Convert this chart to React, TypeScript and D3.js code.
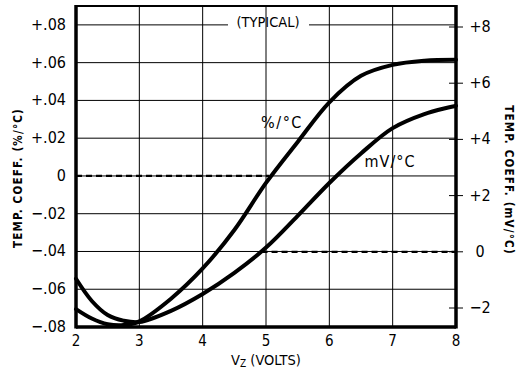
import * as d3 from 'd3';

// Zener voltage (V)
const VZ = [2, 2.25, 2.5, 2.75, 3, 3.5, 4, 4.5, 5, 5.5, 6, 6.5, 7, 7.5, 8];
// temperature coefficient, %/°C (left axis)
const PCT = [-0.0705, -0.0755, -0.0785, -0.079, -0.077, -0.065, -0.049, -0.0286, -0.0037, 0.018, 0.039, 0.053, 0.0588, 0.061, 0.0615];
// temperature coefficient, mV/°C (right axis)
const MV = [-0.96, -1.75, -2.25, -2.45, -2.5, -2.1, -1.5, -0.75, 0.15, 1.28, 2.45, 3.5, 4.4, 4.9, 5.2];

const X_TICKS = [2, 3, 4, 5, 6, 7, 8];
const LEFT_TICKS = [-0.08, -0.06, -0.04, -0.02, 0, 0.02, 0.04, 0.06, 0.08];
const RIGHT_TICKS = [-2, 0, 2, 4, 6, 8];

const FONT = "'DejaVu Sans Condensed', 'Liberation Sans', Arial, sans-serif";

const fmtLeft = (v: number) => {
  if (v === 0) return '0';
  const s = Math.abs(v).toFixed(2).replace(/^0/, '');
  return (v > 0 ? '+' : '\u2212') + s;
};
const fmtRight = (v: number) => (v === 0 ? '0' : (v > 0 ? '+' : '\u2212') + Math.abs(v));

export default function App() {
  const left = 76, right = 456, top = 6, bottom = 327;
  const x = d3.scaleLinear().domain([2, 8]).range([left, right]);
  const y = d3.scaleLinear().domain([-0.08, 0.09]).range([bottom, top]);
  const y2 = d3.scaleLinear().domain([-2, 8]).range([308, 27]);

  const linePct = d3.line<number>()
    .x((_, i) => x(VZ[i]))
    .y((d) => y(d))
    .curve(d3.curveCatmullRom.alpha(0.5));
  const lineMv = d3.line<number>()
    .x((_, i) => x(VZ[i]))
    .y((d) => y2(d))
    .curve(d3.curveCatmullRom.alpha(0.5));

  const zeroPct = y(0);
  const zeroMv = y2(0);
  // where each curve crosses its own zero
  const crossPct = x(5.05);
  const crossMv = x(4.93);

  return (
    <svg width={525} height={372} style={{ position: 'absolute', left: 0, top: 0, background: '#fff' }} fontFamily={FONT}>
      {/* vertical grid */}
      {X_TICKS.slice(1, -1).map((t) => (
        <line key={'v' + t} x1={x(t)} x2={x(t)} y1={top} y2={bottom} stroke="#000" strokeWidth={1} />
      ))}
      {/* horizontal grid, the top one broken for the note */}
      {LEFT_TICKS.map((t) =>
        t === 0.08 ? (
          <g key={'h' + t}>
            <line x1={left} x2={228} y1={y(t)} y2={y(t)} stroke="#000" strokeWidth={1} />
            <line x1={309} x2={right} y1={y(t)} y2={y(t)} stroke="#000" strokeWidth={1} />
          </g>
        ) : (
          <line key={'h' + t} x1={left} x2={right} y1={y(t)} y2={y(t)} stroke="#000" strokeWidth={1} />
        )
      )}
      {/* zero reference lines */}
      <line x1={left} x2={crossPct} y1={zeroPct} y2={zeroPct} stroke="#000" strokeWidth={2.2} strokeDasharray="6,4" />
      <line x1={crossMv} x2={right} y1={zeroMv} y2={zeroMv} stroke="#000" strokeWidth={2.2} strokeDasharray="6,4" />

      {/* frame */}
      <line x1={left} x2={right} y1={top} y2={top} stroke="#000" strokeWidth={2} />
      <line x1={left} x2={left} y1={top - 1} y2={bottom + 1.5} stroke="#000" strokeWidth={3.5} />
      <line x1={right} x2={right} y1={top - 1} y2={bottom + 1.5} stroke="#000" strokeWidth={3.5} />
      <line x1={left} x2={right} y1={bottom} y2={bottom} stroke="#000" strokeWidth={3.5} />

      {/* right-axis ticks */}
      {RIGHT_TICKS.map((t) => (
        <line key={'rt' + t} x1={right - 7} x2={right + 7} y1={y2(t)} y2={y2(t)} stroke="#000" strokeWidth={1} />
      ))}

      {/* curves */}
      <path d={lineMv(MV) ?? ''} fill="none" stroke="#000" strokeWidth={4} strokeLinecap="round" />
      <path d={linePct(PCT) ?? ''} fill="none" stroke="#000" strokeWidth={4} strokeLinecap="round" />

      {/* curve labels */}
      <text x={282} y={128} fontSize={16} letterSpacing={1.5} textAnchor="middle">%/°C</text>
      <text x={390} y={167} fontSize={16} letterSpacing={1} textAnchor="middle">mV/°C</text>
      <text x={268} y={27} fontSize={14.5} textAnchor="middle">(TYPICAL)</text>

      {/* left tick labels */}
      {LEFT_TICKS.map((t) => (
        <text key={'lt' + t} x={66} y={y(t) + 5} fontSize={16} textAnchor="end">{fmtLeft(t)}</text>
      ))}
      {/* right tick labels */}
      {RIGHT_TICKS.map((t) => (
        <text key={'rl' + t} x={480} y={y2(t) + 5} fontSize={16} textAnchor="middle">{fmtRight(t)}</text>
      ))}
      {/* x tick labels */}
      {X_TICKS.map((t) => (
        <text key={'xt' + t} x={x(t)} y={346} fontSize={15} textAnchor="middle">{t}</text>
      ))}

      {/* axis titles */}
      <text x={266} y={365} fontSize={14.5} textAnchor="middle">
        V<tspan fontSize={10} dy={2}>Z</tspan><tspan dy={-2}> (VOLTS)</tspan>
      </text>
      <text transform="translate(22,178) rotate(-90)" fontSize={11.5} fontWeight="bold" letterSpacing={1.2} textAnchor="middle">TEMP. COEFF. (%/°C)</text>
      <text transform="translate(505,180) rotate(90)" fontSize={11.5} fontWeight="bold" letterSpacing={1.2} textAnchor="middle">TEMP. COEFF. (mV/°C)</text>
    </svg>
  );
}
